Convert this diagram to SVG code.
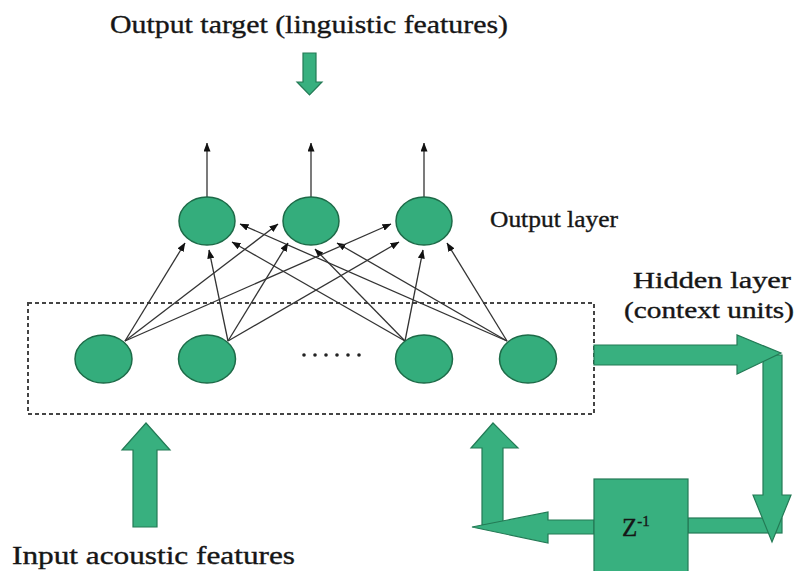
<svg xmlns="http://www.w3.org/2000/svg" width="798" height="571" viewBox="0 0 798 571">
<style>
.lbl{font-family:"Liberation Serif","Times New Roman",serif;fill:#161616;stroke:#161616;stroke-width:0.35;}
.node{fill:#34ad7c;stroke:#1d6b48;stroke-width:1.5;}
.garrow{fill:#38b07f;stroke:#237a55;stroke-width:1.2;stroke-linejoin:miter;}
.conn{stroke:#333;stroke-width:1.3;fill:none;marker-end:url(#ah);}
</style>
<defs>
<marker id="ah" markerUnits="userSpaceOnUse" viewBox="0 0 9 7" refX="8.5" refY="3.5" markerWidth="9" markerHeight="7" orient="auto">
<path d="M0,0 L9,3.5 L0,7 z" fill="#111"/>
</marker>
</defs>
<rect width="798" height="571" fill="#fff"/>

<g id="title">
<text class="lbl" x="110" y="33" font-size="26" textLength="398" lengthAdjust="spacingAndGlyphs">Output target (linguistic features)</text>
<polygon class="garrow" points="303,53 316,53 316,82 322,82 309.5,95 297,82 303,82"/>
</g>

<g id="hidden-box">
<rect x="28" y="303" width="566" height="111" fill="none" stroke="#444" stroke-width="2" stroke-dasharray="4 3"/>
<g fill="#222">
<circle cx="304" cy="355" r="1.8"/><circle cx="315" cy="355" r="1.8"/><circle cx="326" cy="355" r="1.8"/>
<circle cx="337" cy="355" r="1.8"/><circle cx="348" cy="355" r="1.8"/><circle cx="359" cy="355" r="1.8"/>
</g>
</g>

<g id="connectors">
<line class="conn" x1="207" y1="197" x2="207" y2="143"/>
<line class="conn" x1="311" y1="197" x2="311" y2="143"/>
<line class="conn" x1="424" y1="197" x2="424" y2="143"/>
<line class="conn" x1="125" y1="341" x2="185" y2="243"/>
<line class="conn" x1="228" y1="341" x2="209" y2="250"/>
<line class="conn" x1="405" y1="341" x2="232" y2="242"/>
<line class="conn" x1="507" y1="341" x2="240" y2="224"/>
<line class="conn" x1="125" y1="341" x2="278" y2="224"/>
<line class="conn" x1="228" y1="341" x2="288" y2="243"/>
<line class="conn" x1="405" y1="341" x2="315" y2="249"/>
<line class="conn" x1="507" y1="341" x2="337" y2="243"/>
<line class="conn" x1="125" y1="341" x2="391" y2="224"/>
<line class="conn" x1="228" y1="341" x2="399" y2="242"/>
<line class="conn" x1="405" y1="341" x2="423" y2="250"/>
<line class="conn" x1="507" y1="341" x2="447" y2="243"/>
</g>

<g id="out1"><ellipse class="node" cx="207" cy="221" rx="28" ry="24"/></g>
<g id="out2"><ellipse class="node" cx="311" cy="221" rx="28" ry="24"/></g>
<g id="out3"><ellipse class="node" cx="424" cy="221" rx="28" ry="24"/></g>

<g id="in1"><ellipse class="node" cx="103.5" cy="359" rx="28.5" ry="24"/></g>
<g id="in2"><ellipse class="node" cx="207" cy="359" rx="28.5" ry="24"/></g>
<g id="in3"><ellipse class="node" cx="424" cy="359" rx="28.5" ry="24"/></g>
<g id="in4"><ellipse class="node" cx="528" cy="359" rx="28.5" ry="24"/></g>

<g id="output-layer-label">
<text class="lbl" x="490" y="227" font-size="23" textLength="128" lengthAdjust="spacingAndGlyphs">Output layer</text>
</g>
<g id="hidden-layer-label">
<text class="lbl" x="633" y="288" font-size="23" textLength="158" lengthAdjust="spacingAndGlyphs">Hidden layer</text>
<text class="lbl" x="624" y="318" font-size="23" textLength="170" lengthAdjust="spacingAndGlyphs">(context units)</text>
</g>

<g id="input-arrow">
<polygon class="garrow" points="146,423 170,450 157,450 157,527 133,527 133,450 122,450"/>
<text class="lbl" x="12" y="564" font-size="25" textLength="283" lengthAdjust="spacingAndGlyphs">Input acoustic features</text>
</g>

<g id="recurrent-loop">
<rect class="garrow" x="688" y="518" width="94" height="15"/>
<polygon class="garrow" points="763,355 782,355 782,495 791,495 772,542 753,495 763,495"/>
<polygon class="garrow" points="594,345 737,345 737,335 781,353 737,374 737,365 594,365"/>
<polygon class="garrow" points="482,525 482,448 471,448 493,423 518,448 503,448 503,525"/>
<polygon class="garrow" points="594,520 548,520 548,512 472,527 548,543 548,534 594,534"/>
</g>

<g id="zbox">
<rect class="garrow" x="594" y="479" width="94" height="100"/>
<text class="lbl" x="622" y="536" font-size="25" fill="#1c3a2c" stroke="#1c3a2c">Z<tspan font-size="15" dy="-10">-1</tspan></text>
</g>
</svg>
